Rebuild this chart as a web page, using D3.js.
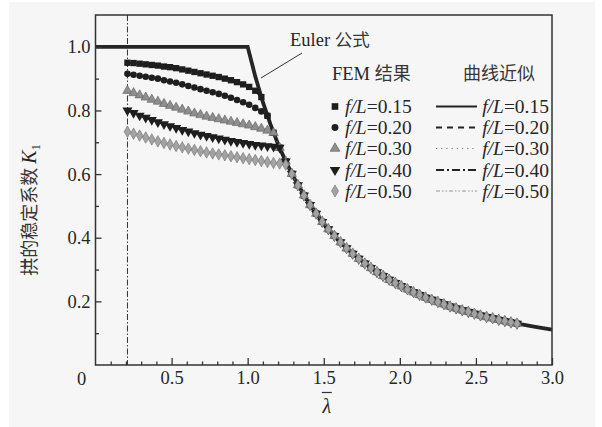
<!DOCTYPE html>
<html>
<head>
<meta charset="utf-8">
<script src="https://cdn.jsdelivr.net/npm/d3@7"></script>
<style>
  html, body { margin: 0; padding: 0; background: #ffffff; }
  svg { display: block; }
  .num { font-family: "Liberation Serif", "DejaVu Serif", serif; fill: #262626; }
  .cjk { font-family: "Noto Sans CJK SC", sans-serif; fill: #363636; }
</style>
</head>
<body>
<svg id="chart" width="602" height="427"></svg>
<script>
// Slenderness grid shared by the FEM series (λ̄)
const lambdaGrid = [
  0.21, 0.25, 0.29, 0.33, 0.37, 0.41, 0.45, 0.49, 0.53, 0.57,
  0.61, 0.65, 0.69, 0.73, 0.77, 0.81, 0.85, 0.89, 0.93, 0.97,
  1.01, 1.05, 1.09, 1.13, 1.17, 1.21, 1.25, 1.29, 1.33, 1.37,
  1.41, 1.45, 1.49, 1.53, 1.57, 1.61, 1.65, 1.69, 1.73, 1.77,
  1.81, 1.85, 1.89, 1.93, 1.97, 2.01, 2.05, 2.09, 2.13, 2.17,
  2.21, 2.25, 2.29, 2.33, 2.37, 2.41, 2.45, 2.49, 2.53, 2.57,
  2.61, 2.65, 2.69, 2.73, 2.77
];

// Common elastic branch shared by all rise ratios, starting at lambdaGrid[22]
const tailStart = 22;
const tailK = [
  0.842, 0.783, 0.730, 0.683, 0.640, 0.601, 0.565, 0.533, 0.503, 0.476,
  0.450, 0.427, 0.406, 0.386, 0.367, 0.350, 0.334, 0.319, 0.305, 0.292,
  0.280, 0.268, 0.258, 0.248, 0.238, 0.229, 0.220, 0.212, 0.205, 0.198,
  0.191, 0.184, 0.178, 0.172, 0.167, 0.161, 0.156, 0.151, 0.147, 0.142,
  0.138, 0.134, 0.130
];

// Inelastic branch of K1 for each rise-to-span ratio f/L
const k015 = [0.950, 0.949, 0.947, 0.945, 0.943, 0.941, 0.938, 0.936, 0.933, 0.929,
              0.925, 0.921, 0.917, 0.913, 0.909, 0.905, 0.900, 0.895, 0.889, 0.882,
              0.874, 0.862];
const k020 = [0.915, 0.912, 0.909, 0.906, 0.903, 0.900, 0.895, 0.891, 0.887, 0.882,
              0.877, 0.872, 0.867, 0.862, 0.857, 0.852, 0.846, 0.840, 0.833, 0.826,
              0.818, 0.808, 0.797];
const k030 = [0.862, 0.855, 0.848, 0.841, 0.834, 0.828, 0.821, 0.815, 0.809, 0.803,
              0.797, 0.791, 0.786, 0.781, 0.777, 0.773, 0.769, 0.765, 0.761, 0.757,
              0.753, 0.748, 0.743, 0.737];
const k040 = [0.800, 0.792, 0.784, 0.777, 0.770, 0.763, 0.757, 0.751, 0.745, 0.739,
              0.734, 0.729, 0.724, 0.720, 0.716, 0.712, 0.708, 0.704, 0.701, 0.698,
              0.695, 0.692, 0.690, 0.688, 0.686];
const k050 = [0.733, 0.727, 0.721, 0.715, 0.709, 0.703, 0.698, 0.693, 0.688, 0.684,
              0.680, 0.676, 0.672, 0.668, 0.665, 0.662, 0.659, 0.656, 0.653, 0.650,
              0.647, 0.644, 0.641, 0.638, 0.635, 0.633, 0.630];

// Euler formula curve (λ̄, K1)
const eulerLambda = [0, 1.0, 1.05, 1.10, 1.15, 1.20, 1.25, 1.30, 1.40, 1.50, 1.60, 1.70,
                     1.80, 1.90, 2.00, 2.10, 2.20, 2.30, 2.40, 2.50, 2.60, 2.70, 2.80, 2.90, 3.00];
const eulerK = [1.0, 1.0, 0.907, 0.826, 0.756, 0.694, 0.640, 0.592, 0.510, 0.444, 0.391, 0.346,
                0.309, 0.277, 0.250, 0.227, 0.207, 0.189, 0.174, 0.160, 0.148, 0.137, 0.128, 0.119, 0.111];

const ratioLabels = ["f/L=0.15", "f/L=0.20", "f/L=0.30", "f/L=0.40", "f/L=0.50"];
const xTickValues = [0.5, 1.0, 1.5, 2.0, 2.5, 3.0];
const xMinorValues = [0.1,0.2,0.3,0.4,0.6,0.7,0.8,0.9,1.1,1.2,1.3,1.4,1.6,1.7,1.8,1.9,
                      2.1,2.2,2.3,2.4,2.6,2.7,2.8,2.9];
const yTickValues = [0.2, 0.4, 0.6, 0.8, 1.0];
const yMinorValues = [0.1, 0.3, 0.5, 0.7, 0.9];
const lambdaLine = 0.21; // lower bound of the studied range

const svg = d3.select("#chart");

// paper background
svg.append("rect").attr("x", 9).attr("y", 2).attr("width", 586).attr("height", 425)
  .attr("fill", "#f6f6f6");

const x = d3.scaleLinear().domain([0, 3]).range([95.5, 552]);
const y = d3.scaleLinear().domain([0, 1.1]).range([365, 15]);

// series records
const plateaus = [k015, k020, k030, k040, k050];
const series = plateaus.map((pl, s) => {
  const pts = [];
  for (let i = 0; i < lambdaGrid.length; i++) {
    const k = i < pl.length ? pl[i] : tailK[i - tailStart];
    pts.push([lambdaGrid[i], k]);
  }
  return { label: ratioLabels[s], pts };
});

const markerStyles = [
  { type: d3.symbolSquare,   size: 40, fill: "#1e1e1e", stroke: "none", rot: 0 },
  { type: d3.symbolCircle,   size: 34, fill: "#1e1e1e", stroke: "none", rot: 0 },
  { type: d3.symbolTriangle, size: 38, fill: "#8e8e8e", stroke: "#5e5e5e", rot: 0 },
  { type: d3.symbolTriangle, size: 44, fill: "#1e1e1e", stroke: "none", rot: 180 },
  { type: d3.symbolDiamond,  size: 38, fill: "#a3a3a3", stroke: "#6e6e6e", rot: 0 }
];
const lineStyles = [
  { dash: null,               width: 2.0, color: "#222" },
  { dash: "6,5",              width: 1.8, color: "#222" },
  { dash: "1.2,4",            width: 1.0, color: "#777" },
  { dash: "8,3,2,3",          width: 1.8, color: "#222" },
  { dash: "4,2,1.5,2,1.5,2",  width: 0.9, color: "#888" }
];

// vertical dash-dot line at the lower λ̄ bound
svg.append("line")
  .attr("x1", x(lambdaLine)).attr("x2", x(lambdaLine))
  .attr("y1", y(1.1)).attr("y2", y(0))
  .attr("stroke", "#333").attr("stroke-width", 1)
  .attr("stroke-dasharray", "6,2,1.5,2");

// Euler curve
const line = d3.line().x(d => x(d[0])).y(d => y(d[1]));
svg.append("path")
  .datum(eulerLambda.map((l, i) => [l, eulerK[i]]))
  .attr("d", line)
  .attr("fill", "none").attr("stroke", "#262626").attr("stroke-width", 3.8)
  .attr("stroke-linejoin", "miter");

// fitted curves
series.forEach((s, i) => {
  const ls = lineStyles[i];
  svg.append("path").datum(s.pts).attr("d", line)
    .attr("fill", "none").attr("stroke", ls.color).attr("stroke-width", ls.width)
    .attr("stroke-dasharray", ls.dash);
});

// FEM markers
series.forEach((s, i) => {
  const ms = markerStyles[i];
  const sym = d3.symbol().type(ms.type).size(ms.size);
  svg.append("g").selectAll("path").data(s.pts).join("path")
    .attr("d", sym)
    .attr("transform", d => `translate(${x(d[0])},${y(d[1])}) rotate(${ms.rot})`)
    .attr("fill", ms.fill).attr("stroke", ms.stroke).attr("stroke-width", 0.6);
});

// axes: ticks point inward
svg.append("g").attr("transform", `translate(0,${y(0)})`)
  .call(d3.axisBottom(x).tickValues(xTickValues).tickSize(-7).tickPadding(6)
        .tickFormat(d3.format(".1f")));
svg.append("g").attr("transform", `translate(0,${y(0)})`)
  .call(d3.axisBottom(x).tickValues(xMinorValues).tickSize(-3.5).tickFormat(""));
svg.append("g").attr("transform", `translate(${x(0)},0)`)
  .call(d3.axisLeft(y).tickValues(yTickValues).tickSize(-6).tickPadding(5)
        .tickFormat(d3.format(".1f")));
svg.append("g").attr("transform", `translate(${x(0)},0)`)
  .call(d3.axisLeft(y).tickValues(yMinorValues).tickSize(-3.5).tickFormat(""));
svg.selectAll(".domain").remove();
svg.selectAll(".tick line").attr("stroke", "#333").attr("stroke-width", 1.3);
svg.selectAll(".tick text").attr("class", "num")
  .attr("font-family", null).style("font-size", "18.5px");

// origin label
svg.append("text").attr("class", "num").attr("x", x(0) - 14).attr("y", 384.5)
  .attr("text-anchor", "middle").style("font-size", "18.5px").text("0");

// frame
svg.append("rect").attr("x", x(0)).attr("y", y(1.1))
  .attr("width", x(3) - x(0)).attr("height", y(0) - y(1.1))
  .attr("fill", "none").attr("stroke", "#333").attr("stroke-width", 1.5);

// axis titles
const yt = svg.append("text").attr("transform", "translate(36,210) rotate(-90)")
  .attr("text-anchor", "middle");
yt.append("tspan").attr("class", "cjk").style("font-size", "18px").text("拱的稳定系数 ");
yt.append("tspan").attr("class", "num").style("font-size", "20px").style("font-style", "italic").text("K");
yt.append("tspan").attr("class", "num").style("font-size", "12px").attr("dy", 4).text("1");

svg.append("text").attr("class", "num").attr("x", x(1.52)).attr("y", 413)
  .attr("text-anchor", "middle").style("font-size", "20px").style("font-style", "italic").text("λ");
svg.append("line").attr("x1", x(1.52) - 5).attr("x2", x(1.52) + 5)
  .attr("y1", 392.5).attr("y2", 392.5).attr("stroke", "#333").attr("stroke-width", 1.2);

// Euler annotation
svg.append("line").attr("x1", 302).attr("y1", 53).attr("x2", 261).attr("y2", 78)
  .attr("stroke", "#333").attr("stroke-width", 1);
const eu = svg.append("text").attr("x", 290).attr("y", 46);
eu.append("tspan").attr("class", "num").style("font-size", "18.5px").text("Euler ");
eu.append("tspan").attr("class", "cjk").style("font-size", "17.5px").text("公式");

// legend headings
const h1 = svg.append("text").attr("x", 332).attr("y", 80);
h1.append("tspan").attr("class", "num").style("font-size", "18.5px").text("FEM ");
h1.append("tspan").attr("class", "cjk").style("font-size", "18px").text("结果");
svg.append("text").attr("class", "cjk").attr("x", 463).attr("y", 80)
  .style("font-size", "18px").text("曲线近似");

// legend rows
const rowY = [106.5, 127.5, 148.5, 170, 191];
function ratioText(g, xPos, yPos, anchor, label) {
  const t = g.append("text").attr("class", "num").attr("x", xPos).attr("y", yPos + 6.5)
    .attr("text-anchor", anchor).style("font-size", "19.5px");
  t.append("tspan").style("font-style", "italic").text("f/L");
  t.append("tspan").text(label.slice(3));
}
const lg = svg.append("g");
series.forEach((s, i) => {
  const ms = markerStyles[i];
  lg.append("path").attr("d", d3.symbol().type(ms.type).size(ms.size * 1.1)())
    .attr("transform", `translate(335,${rowY[i]}) rotate(${ms.rot})`)
    .attr("fill", ms.fill).attr("stroke", ms.stroke).attr("stroke-width", 0.6);
  ratioText(lg, 345, rowY[i], "start", s.label);
  const ls = lineStyles[i];
  lg.append("line").attr("x1", 436).attr("x2", 477).attr("y1", rowY[i]).attr("y2", rowY[i])
    .attr("stroke", ls.color).attr("stroke-width", ls.width).attr("stroke-dasharray", ls.dash);
  ratioText(lg, 549, rowY[i], "end", s.label);
});
</script>
</body>
</html>
